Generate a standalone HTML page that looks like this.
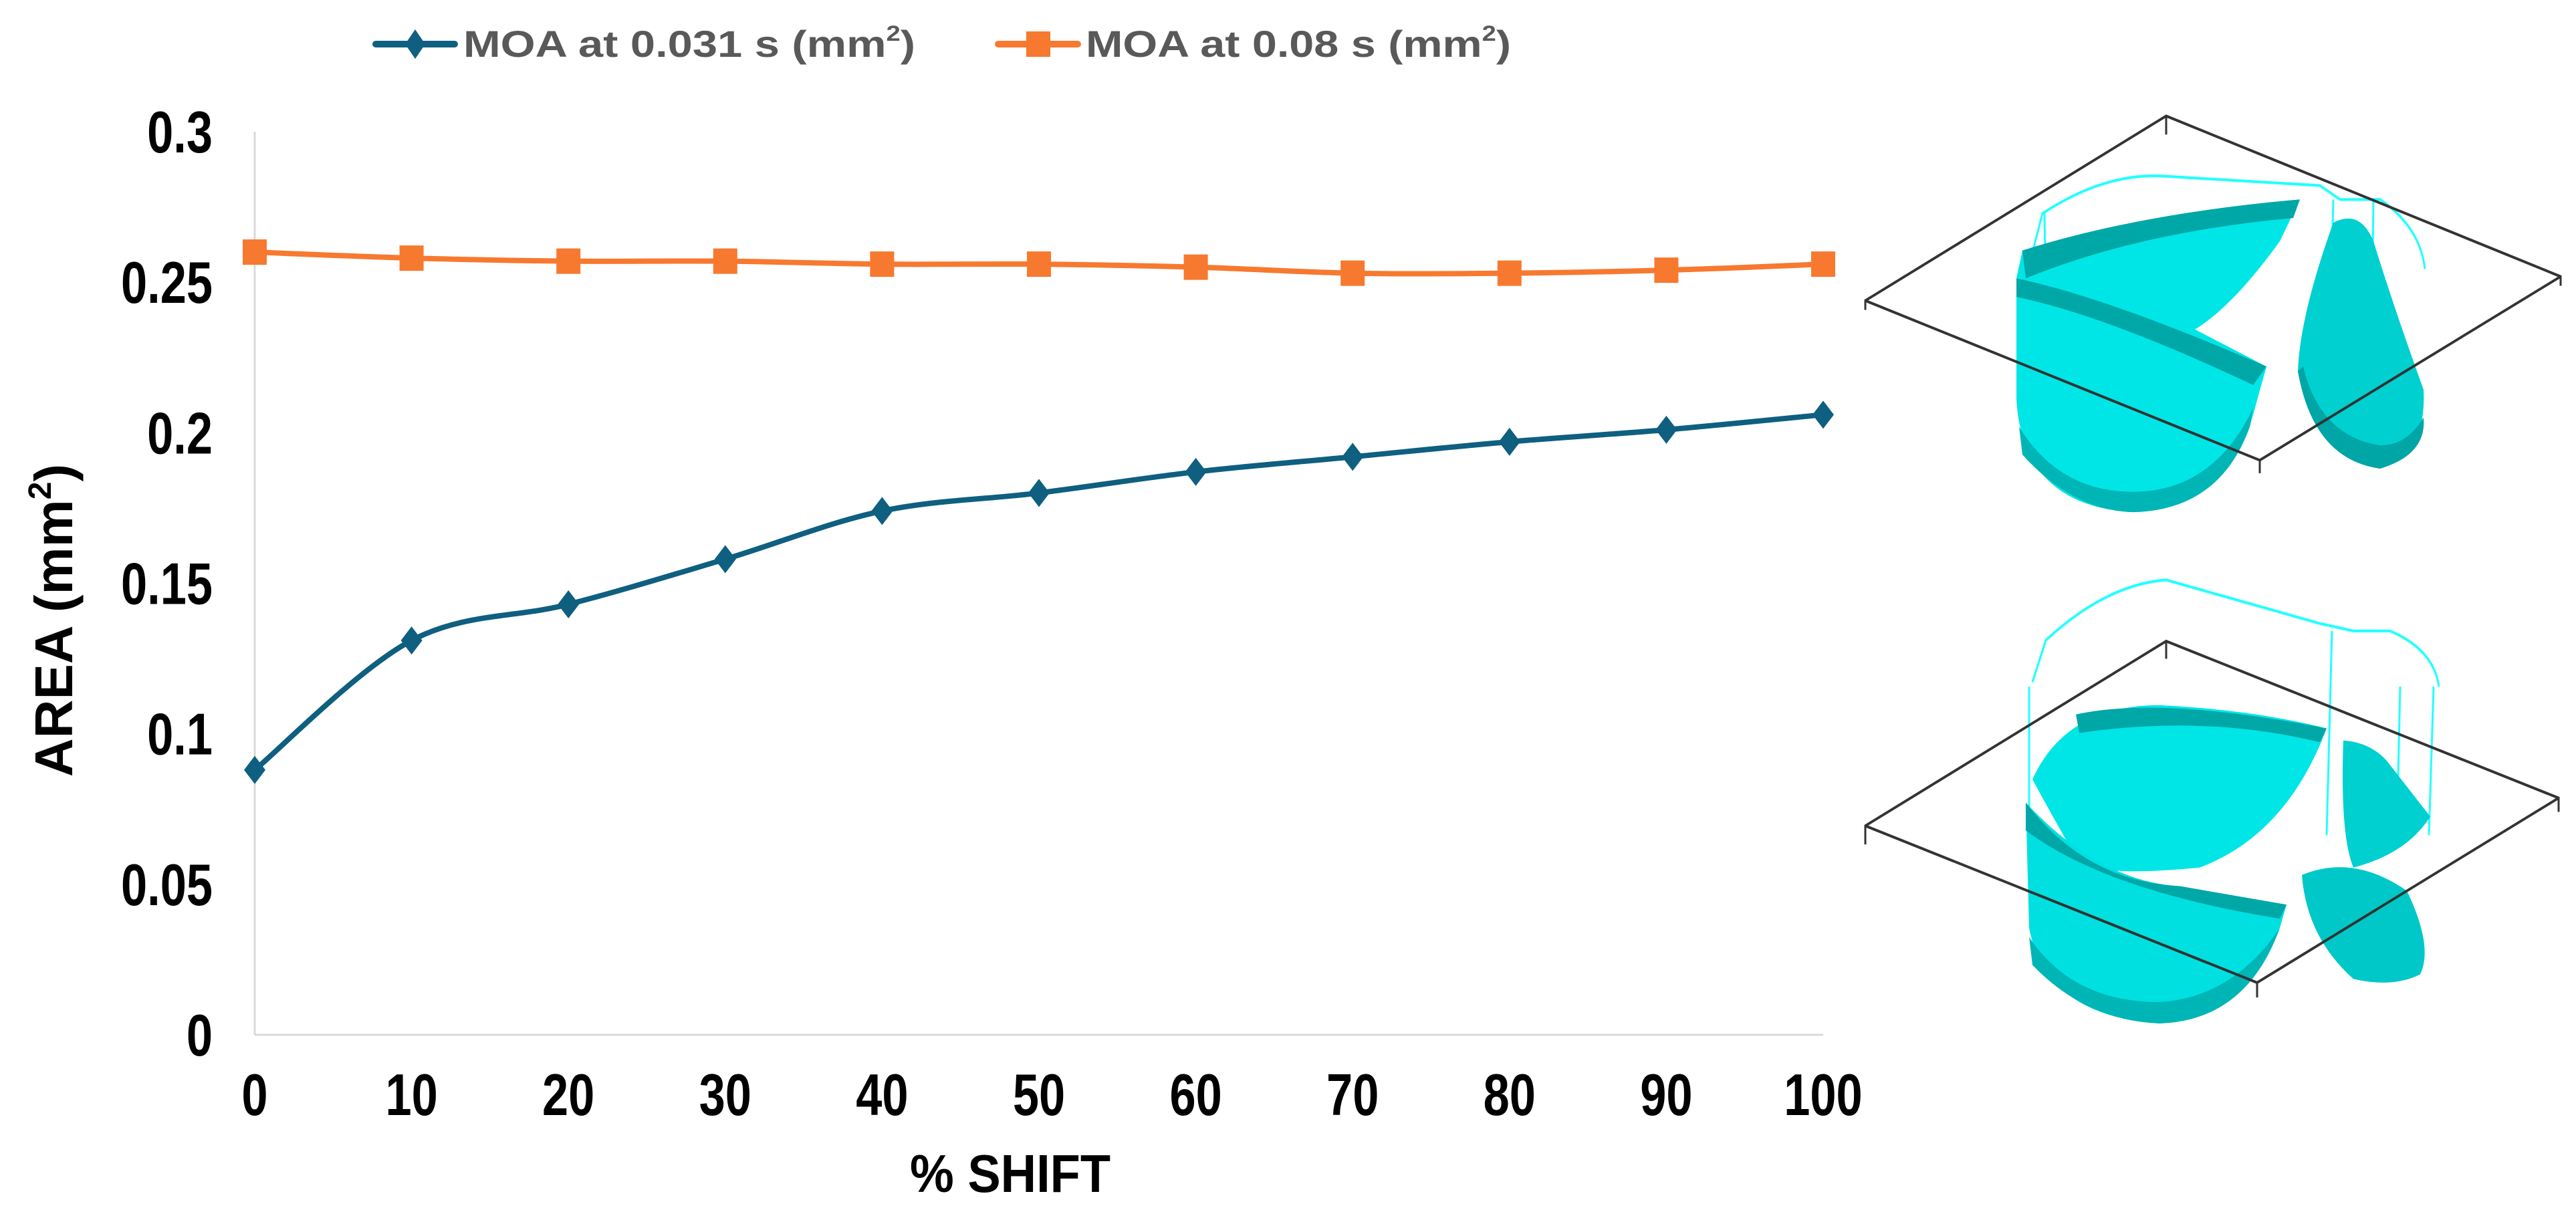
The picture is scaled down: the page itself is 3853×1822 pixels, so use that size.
<!DOCTYPE html>
<html><head><meta charset="utf-8"><style>
html,body{margin:0;padding:0;background:#fff;overflow:hidden}
svg{display:block}
text{font-family:"Liberation Sans Narrow","Liberation Sans",sans-serif;font-weight:bold}
</style></head><body>
<svg id="chart" width="3853" height="1822" viewBox="0 0 3853 1822" xmlns="http://www.w3.org/2000/svg">
<g id="legend">
 <g>
  <line x1="562" y1="66" x2="680" y2="66" stroke="#0e5f80" stroke-width="10" stroke-linecap="round"/>
  <polygon points="621,44 636,66 621,88 606,66" fill="#0e5f80"/>
  <text x="693" y="85" font-size="56" fill="#595959" textLength="676" lengthAdjust="spacingAndGlyphs">MOA at 0.031 s (mm<tspan font-size="32" dy="-24">2</tspan><tspan dy="24">)</tspan></text>
 </g>
 <g>
  <line x1="1493" y1="66" x2="1612" y2="66" stroke="#f7792f" stroke-width="10" stroke-linecap="round"/>
  <rect x="1535" y="47" width="36" height="38" fill="#f7792f"/>
  <text x="1624" y="85" font-size="56" fill="#595959" textLength="636" lengthAdjust="spacingAndGlyphs">MOA at 0.08 s (mm<tspan font-size="32" dy="-24">2</tspan><tspan dy="24">)</tspan></text>
 </g>
</g>
<g id="axes"></g>
<g id="series"></g>
<text x="0" y="0" font-size="80" fill="#000" text-anchor="middle" transform="translate(108 928) rotate(-90)" style="font-family:'Liberation Sans',sans-serif">AREA (mm<tspan font-size="48" dy="-32">2</tspan><tspan dy="32">)</tspan></text>
<text x="1511" y="1783" font-size="80" fill="#000" text-anchor="middle" textLength="300" lengthAdjust="spacingAndGlyphs">% SHIFT</text>

<g transform="scale(1 1.388)">
<g>
 <path d="M3030 300 L3055 230 Q3150 185 3240 190 L3470 200 L3500 215 L3560 215 Q3620 245 3627 290" fill="none" stroke="#2ff" stroke-width="3"/>
 <path d="M3024 300 L3022 420 M3058 230 L3060 330 M3490 215 L3482 420 M3550 215 L3548 330" fill="none" stroke="#2ff" stroke-width="3"/>
 <path d="M3016 300 L3025 270 Q3200 230 3440 215 L3410 260 Q3340 330 3283 355 L3390 395 L3365 460 Q3320 550 3190 552 Q3025 545 3016 430 Z" fill="#00e6e6"/>
 <path d="M3025 270 Q3200 230 3440 215 L3430 235 Q3200 250 3030 300 Z" fill="#00a7a7"/>
 <path d="M3016 300 Q3150 320 3390 395 L3370 415 Q3150 340 3016 320 Z" fill="#00a7a7"/>
 <path d="M3025 490 Q3100 550 3190 552 Q3320 550 3365 460 L3370 440 Q3310 530 3190 530 Q3080 530 3020 460 Z" fill="#00b5b5"/>
 <path d="M3490 240 Q3530 225 3550 260 Q3580 330 3625 420 Q3630 490 3560 505 Q3460 495 3437 400 Q3440 340 3490 240 Z" fill="#00d0d0"/>
 <path d="M3437 400 Q3460 495 3560 505 Q3630 490 3625 450 Q3600 480 3560 480 Q3470 470 3445 395 Z" fill="#00a5a5"/>
 <polyline points="2790,334 2790,324 3240,125 3830,298 3830,308" fill="none" stroke="#333" stroke-width="3"/>
 <polyline points="2790,324 3380,496 3830,298" fill="none" stroke="#333" stroke-width="3"/>
 <line x1="3240" y1="125" x2="3240" y2="145" stroke="#333" stroke-width="3"/>
 <line x1="3380" y1="496" x2="3380" y2="510" stroke="#333" stroke-width="3"/>
</g>
<g>
 <path d="M3040 735 L3060 690 Q3150 630 3240 625 L3470 672 L3520 680 L3575 680 Q3640 700 3648 740" fill="none" stroke="#2ff" stroke-width="3"/>
 <path d="M3035 740 L3035 900 M3488 680 L3480 900 M3640 740 L3633 900 M3590 740 L3585 900" fill="none" stroke="#2ff" stroke-width="3"/>
 <path d="M3040 840 Q3090 760 3230 760 Q3370 765 3480 785 Q3420 900 3290 935 Q3150 945 3110 930 Q3070 880 3040 840 Z" fill="#00e6e6"/>
 <path d="M3105 770 Q3230 750 3480 785 L3470 800 Q3300 770 3110 790 Z" fill="#00a7a7"/>
 <path d="M3030 865 Q3140 950 3260 955 L3420 975 L3410 1000 Q3360 1100 3230 1103 Q3060 1095 3035 1000 Z" fill="#00e0e0"/>
 <path d="M3030 865 Q3120 950 3260 955 L3420 975 L3410 990 Q3150 960 3030 895 Z" fill="#00a7a7"/>
 <path d="M3040 1040 Q3120 1100 3230 1103 Q3360 1100 3410 1000 Q3340 1075 3230 1080 Q3100 1080 3035 1010 Z" fill="#00b5b5"/>
 <path d="M3505 798 Q3545 800 3570 820 L3635 880 Q3600 920 3520 935 Q3500 900 3505 798 Z" fill="#00d0d0"/>
 <path d="M3443 943 Q3520 920 3600 960 Q3640 1020 3620 1050 Q3580 1065 3520 1055 Q3450 1010 3443 943 Z" fill="#00c8c8"/>
 <polyline points="2790,910 2790,890 3240,691 3827,860 3827,875" fill="none" stroke="#333" stroke-width="3"/>
 <polyline points="2790,890 3376,1059 3827,860" fill="none" stroke="#333" stroke-width="3"/>
 <line x1="3240" y1="691" x2="3240" y2="710" stroke="#333" stroke-width="3"/>
 <line x1="3376" y1="1059" x2="3376" y2="1075" stroke="#333" stroke-width="3"/>
</g>
</g>
</svg>
<script>
const categories = [0,10,20,30,40,50,60,70,80,90,100];
const series0031 = [0.088,0.131,0.143,0.158,0.174,0.180,0.187,0.192,0.197,0.201,0.206];
const series008 = [0.260,0.258,0.257,0.257,0.256,0.256,0.255,0.253,0.253,0.254,0.256];
const yTicks = [0,0.05,0.1,0.15,0.2,0.25,0.3];
const yTickLabels = ["0","0.05","0.1","0.15","0.2","0.25","0.3"];

const NS = "http://www.w3.org/2000/svg";
const X0 = 381, X1 = 2727, YB = 1548, YT = 197;
function xs(v){ return X0 + v / 100 * (X1 - X0); }
function yScale(v){ return YB - v / 0.3 * (YB - YT); }
function mk(tag, attrs, parent){ const e = document.createElementNS(NS, tag); for (const k in attrs) e.setAttribute(k, attrs[k]); parent.appendChild(e); return e; }

const axes = document.getElementById('axes');
const yAxis = mk('line', {x1:X0, y1:YT, x2:X0, y2:YB, stroke:'#d9d9d9', 'stroke-width':3}, axes);


const xAxis = mk('line', {x1:X0, y1:YB, x2:X1, y2:YB, stroke:'#d9d9d9', 'stroke-width':3}, axes);



yTicks.forEach((t, i) => {
  const tx = mk('text', {x:318, y:yScale(t) + 31, 'font-size':88, 'text-anchor':'end', fill:'#000', transform:'translate(318 0) scale(0.8 1) translate(-318 0)'}, axes);
  tx.textContent = yTickLabels[i];
  
  
});
categories.forEach(c => {
  const x = xs(c);
  const tx = mk('text', {x:x, y:1668, 'font-size':88, 'text-anchor':'middle', fill:'#000', transform:'translate(' + x + ' 0) scale(0.8 1) translate(' + (-x) + ' 0)'}, axes);
  tx.textContent = String(c);
  
  
});

function smoothPath(pts){
  let d = 'M' + pts[0][0] + ' ' + pts[0][1];
  for (let i = 0; i < pts.length - 1; i++){
    const p0 = pts[i-1] || pts[i], p1 = pts[i], p2 = pts[i+1], p3 = pts[i+2] || p2;
    const t = 1/6;
    d += ' C' + (p1[0] + (p2[0]-p0[0])*t) + ' ' + (p1[1] + (p2[1]-p0[1])*t) + ' ' +
         (p2[0] - (p3[0]-p1[0])*t) + ' ' + (p2[1] - (p3[1]-p1[1])*t) + ' ' + p2[0] + ' ' + p2[1];
  }
  return d;
}
const sg = document.getElementById('series');
function drawSeries(vals, color, marker, name){
  const pts = categories.map((c, i) => [xs(c), yScale(vals[i])]);
  const p = mk('path', {d:smoothPath(pts), fill:'none', stroke:color, 'stroke-width':8, 'stroke-linejoin':'round'}, sg);
  
  
  pts.forEach(pt => {
    let m;
    if (marker === 'diamond') m = mk('polygon', {points:(pt[0])+','+(pt[1]-21)+' '+(pt[0]+16)+','+pt[1]+' '+pt[0]+','+(pt[1]+21)+' '+(pt[0]-16)+','+pt[1], fill:color}, sg);
    else m = mk('rect', {x:pt[0]-18, y:pt[1]-19, width:36, height:38, fill:color}, sg);
    
    
  });
}
drawSeries(series008, '#f7792f', 'square', 'moa-0-08s');
drawSeries(series0031, '#0e5f80', 'diamond', 'moa-0-031s');
</script>
</body></html>
